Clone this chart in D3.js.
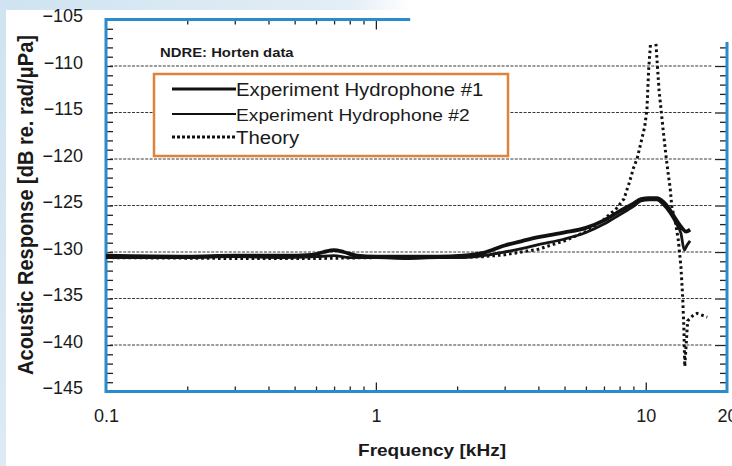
<!DOCTYPE html>
<meta charset="utf-8">
<style>
  body { margin: 0; background: #fff; }
  text { font-family: "Liberation Sans", Arial, Helvetica, sans-serif; fill: #1a1a1a; }
  .grid { stroke: #3a3a3a; stroke-width: 1.1; stroke-dasharray: 3 1.4; }
  .frame { stroke: #2b8ccc; stroke-width: 3; fill: none; }
  .tk line { stroke: #222; stroke-width: 1.3; }
  .tk path { display: none; }
</style>
<svg width="732" height="466"></svg>
<script src="https://d3js.org/d3.v7.min.js"></script>
<script>
// tick values and labels
var yTicks = [-145, -140, -135, -130, -125, -120, -115, -110, -105];
var gridY = [-140, -135, -130, -125, -120, -115, -110];
var xTicks = [0.1, 1, 10, 20];
var xTickLabels = ["0.1", "1", "10", "20"];
var xMinor = [0.2, 0.3, 0.4, 0.5, 0.6, 0.7, 0.8, 0.9, 2, 3, 4, 5, 6, 7, 8, 9];
var xMajor = [1, 10];

// Experiment Hydrophone #1
var h1Freq = [0.1, 0.2, 0.3, 0.45, 0.58, 0.64, 0.7, 0.76, 0.85, 1.0, 1.3, 1.7, 2.1, 2.5, 3.0, 3.5, 4.0, 5.0, 6.0, 7.0, 8.0, 9.0, 9.6, 10.3, 11.0, 11.6, 12.3, 13.0, 13.6, 14.1, 14.6];
var h1Resp = [-130.4, -130.5, -130.4, -130.4, -130.3, -130.0, -129.8, -130.0, -130.4, -130.5, -130.5, -130.5, -130.4, -130.1, -129.3, -128.8, -128.4, -127.9, -127.4, -126.6, -125.6, -124.8, -124.3, -124.2, -124.2, -124.6, -125.5, -126.6, -127.4, -127.8, -127.6];

// Experiment Hydrophone #2
var h2Freq = [0.1, 0.2, 0.3, 0.45, 0.6, 0.7, 0.8, 1.0, 1.3, 1.7, 2.1, 2.5, 3.0, 3.5, 4.0, 5.0, 6.0, 7.0, 8.0, 9.0, 9.6, 10.3, 11.0, 11.6, 12.3, 13.0, 13.5, 13.9, 14.2, 14.6];
var h2Resp = [-130.6, -130.6, -130.5, -130.6, -130.5, -130.4, -130.6, -130.6, -130.7, -130.6, -130.6, -130.4, -130.0, -129.6, -129.2, -128.6, -127.9, -127.0, -126.0, -125.1, -124.5, -124.4, -124.4, -124.9, -125.8, -127.0, -128.0, -129.8, -129.3, -128.8];

// Theory
var thFreq = [0.1, 0.3, 0.6, 1.0, 1.5, 2.0, 2.5, 3.0, 4.0, 5.0, 6.0, 7.0, 7.8, 8.3, 8.7, 9.0, 9.3, 9.9, 10.1, 10.25, 10.45, 10.6, 10.75, 10.9, 11.2, 11.6, 11.9, 12.1, 12.3, 12.5, 12.9, 13.2, 13.5, 13.7, 13.85, 13.95, 14.3, 15.0, 15.5, 16.9];
var thResp = [-130.6, -130.7, -130.7, -130.6, -130.6, -130.6, -130.5, -130.3, -129.7, -128.8, -127.8, -126.5, -125.3, -124.3, -122.5, -121.0, -119.9, -116.6, -114.7, -110.4, -107.0, -104.0, -104.0, -107.5, -112.6, -116.9, -119.8, -121.5, -123.0, -125.2, -126.9, -128.7, -131.6, -134.8, -138.4, -142.3, -137.4, -136.8, -136.6, -137.0];

var legendNames = ["Experiment Hydrophone #1", "Experiment Hydrophone #2", "Theory"];

var svg = d3.select("svg");
var x = d3.scaleLog().domain([0.1, 20]).range([106, 727]);
var y = d3.scaleLinear().domain([-145, -105]).range([391.5, 19.5]);

// light blue backdrop at the edges
var defs = svg.append("defs");
var gl = defs.append("linearGradient").attr("id", "gl").attr("x1", 0).attr("y1", 0).attr("x2", 0).attr("y2", 1);
gl.append("stop").attr("offset", 0).attr("stop-color", "#cfe3f1");
gl.append("stop").attr("offset", 1).attr("stop-color", "#dcebf5");
var gt = defs.append("linearGradient").attr("id", "gt");
gt.append("stop").attr("offset", 0).attr("stop-color", "#cfe3f1");
gt.append("stop").attr("offset", 0.85).attr("stop-color", "#e3eef6");
gt.append("stop").attr("offset", 1).attr("stop-color", "#fff");
svg.append("rect").attr("x", 0).attr("y", 0).attr("width", 6).attr("height", 466).attr("fill", "url(#gl)");
svg.append("rect").attr("x", 0).attr("y", 0).attr("width", 412).attr("height", 10).attr("fill", "url(#gt)");

defs.append("clipPath").attr("id", "clip").append("rect")
  .attr("x", x(0.1)).attr("y", 42).attr("width", x(20) - x(0.1)).attr("height", y(-145) - 42);

// grid
svg.append("g").selectAll("line").data(gridY).enter().append("line")
  .attr("class", "grid")
  .attr("x1", x(0.1) + 4).attr("x2", 712)
  .attr("y1", function(d) { return y(d); }).attr("y2", function(d) { return y(d); });

// ticks
var yMinor = d3.range(-144, -105, 1);
svg.append("g").attr("class", "tk").attr("transform", "translate(" + x(0.1) + ",0)")
  .call(d3.axisRight(y).tickValues(yMinor).tickSize(7).tickFormat(""));
svg.append("g").attr("class", "tk").attr("transform", "translate(" + x(20) + ",0)")
  .call(d3.axisLeft(y).tickValues(yMinor.filter(function(d) { return d <= -108 && d % 5 !== 0; })).tickSize(7).tickFormat(""));
svg.append("g").attr("class", "tk").attr("transform", "translate(" + x(20) + ",0)")
  .call(d3.axisLeft(y).tickValues(gridY).tickSize(12).tickFormat(""));
svg.append("g").attr("class", "tk").attr("transform", "translate(0," + y(-145) + ")")
  .call(d3.axisBottom(x).tickValues(xMinor).tickSize(-5).tickFormat(""));
svg.append("g").attr("class", "tk").attr("transform", "translate(0," + y(-145) + ")")
  .call(d3.axisBottom(x).tickValues(xMajor).tickSize(-9).tickFormat(""));
svg.append("g").attr("class", "tk").attr("transform", "translate(0," + y(-105) + ")")
  .call(d3.axisBottom(x).tickValues(xMinor.filter(function(d) { return d < 1; })).tickSize(5).tickFormat(""));
svg.append("g").attr("class", "tk").attr("transform", "translate(0," + y(-105) + ")")
  .call(d3.axisBottom(x).tickValues([1]).tickSize(10).tickFormat(""));

// tick labels
var yAx = svg.append("g").attr("class", "tk").attr("transform", "translate(" + x(0.1) + ",0)")
  .call(d3.axisLeft(y).tickValues(yTicks).tickSize(0).tickPadding(23).tickFormat(d3.format("d")));
yAx.selectAll("text").attr("font-size", 18).attr("dy", "0.12em");
var xAx = svg.append("g").attr("class", "tk").attr("transform", "translate(0," + y(-145) + ")")
  .call(d3.axisBottom(x).tickValues(xTicks).tickSize(0).tickPadding(18)
    .tickFormat(function(d, i) { return xTickLabels[i]; }));
xAx.selectAll("text").attr("font-size", 18);

// frame
var topEnd = 1.34;
svg.append("path").attr("class", "frame")
  .attr("d", "M" + x(topEnd) + "," + y(-105) + "H" + x(0.1) + "V" + y(-145) + "H" + x(20) + "V" + 42);

// legend
var lg = svg.append("g");
lg.append("rect").attr("x", 154).attr("y", 74).attr("width", 354).attr("height", 82)
  .attr("fill", "#fff").attr("stroke", "#e0823a").attr("stroke-width", 2.5);
var legY = [89, 114, 137];
var legW = [3.2, 2.2, 2.8];
var legDash = [null, null, "3 2"];
var legSize = [18, 17, 18];
legendNames.forEach(function(name, i) {
  lg.append("line").attr("x1", 172).attr("x2", 236).attr("y1", legY[i]).attr("y2", legY[i])
    .attr("stroke", "#111").attr("stroke-width", legW[i]).attr("stroke-dasharray", legDash[i]);
  lg.append("text").attr("transform", "translate(236," + (legY[i] + 6.5) + ") scale(1.13,1)")
    .attr("font-size", legSize[i]).text(name);
});

svg.append("text").attr("transform", "translate(160,57) scale(1.1,1)")
  .attr("font-size", 13.5).attr("font-weight", "bold").text("NDRE: Horten data");

// curves
var line = d3.line().x(function(d) { return x(d[0]); }).y(function(d) { return y(d[1]); }).curve(d3.curveMonotoneX);
var lineLin = d3.line().x(function(d) { return x(d[0]); }).y(function(d) { return y(d[1]); });
var plot = svg.append("g").attr("clip-path", "url(#clip)");
plot.append("path").attr("d", lineLin(d3.zip(thFreq, thResp)))
  .attr("fill", "none").attr("stroke", "#111").attr("stroke-width", 3).attr("stroke-dasharray", "2.6 3");
plot.append("path").attr("d", line(d3.zip(h2Freq, h2Resp)))
  .attr("fill", "none").attr("stroke", "#151515").attr("stroke-width", 2.8).attr("stroke-linejoin", "round");
plot.append("path").attr("d", line(d3.zip(h1Freq, h1Resp)))
  .attr("fill", "none").attr("stroke", "#111").attr("stroke-width", 3.8).attr("stroke-linejoin", "round");

// axis titles
svg.append("text").attr("transform", "translate(432,456) scale(1.12,1)")
  .attr("text-anchor", "middle").attr("font-size", 17).attr("font-weight", "bold").text("Frequency [kHz]");
svg.append("text").attr("transform", "translate(33,205) scale(1.12,1) rotate(-90)")
  .attr("text-anchor", "middle").attr("font-size", 20).attr("font-weight", "bold")
  .text("Acoustic Response [dB re. rad/\u03bcPa]");
</script>
